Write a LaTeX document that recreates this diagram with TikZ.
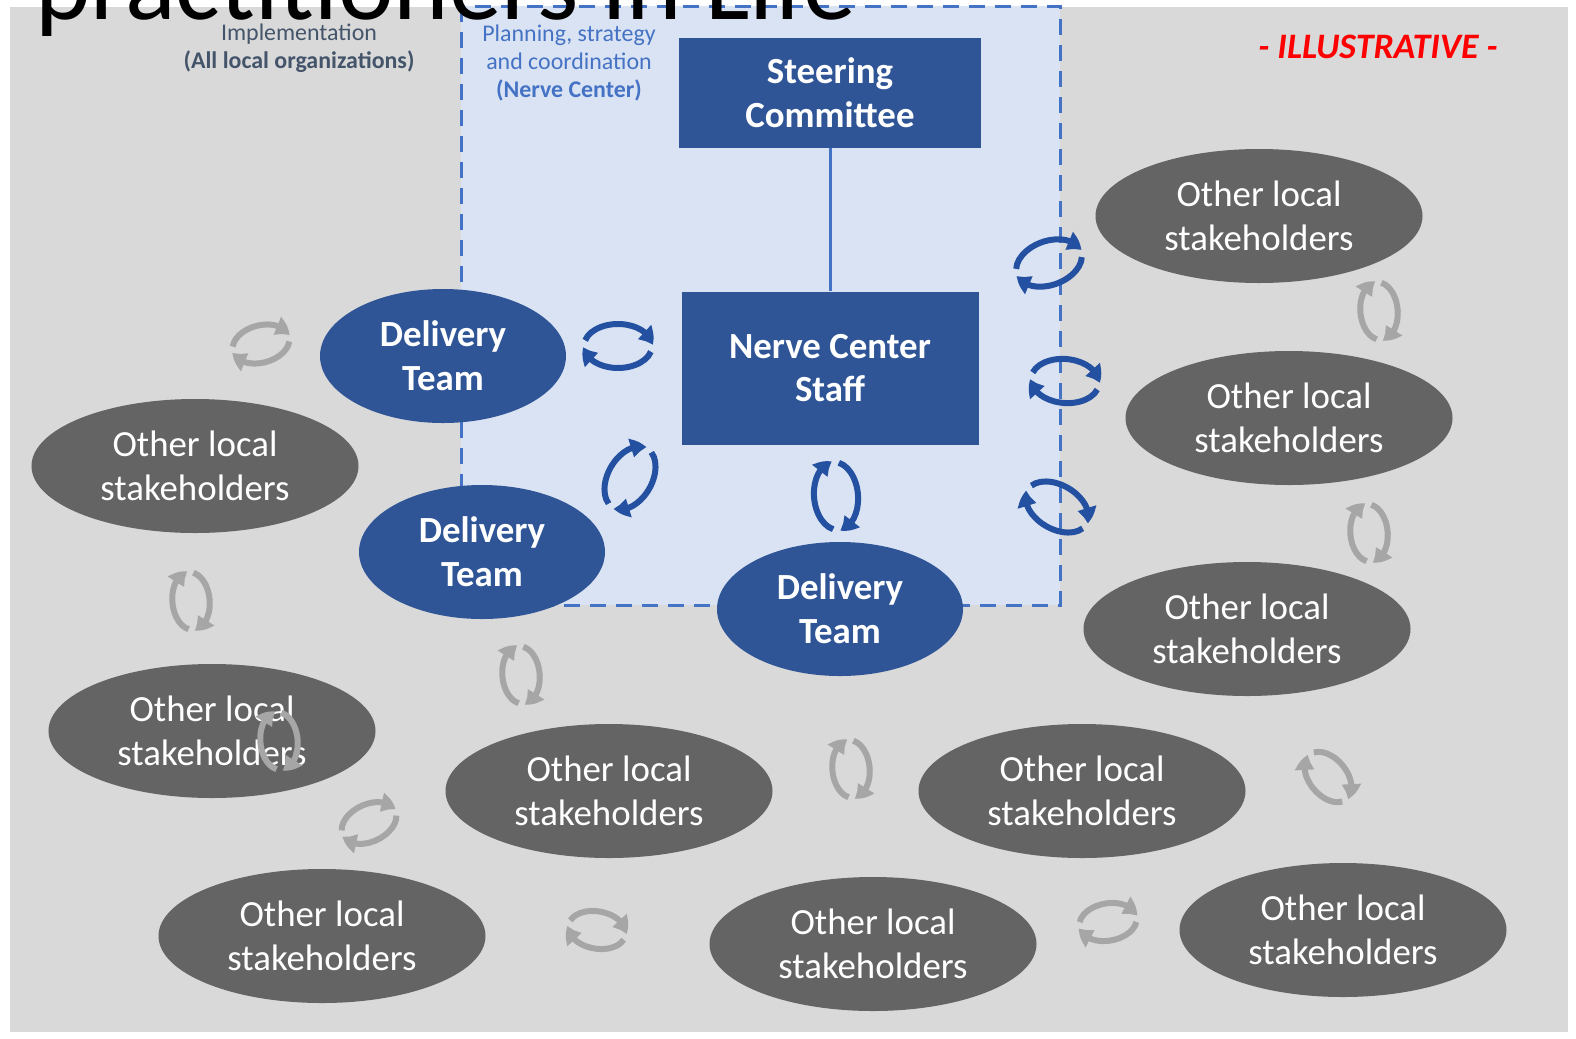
\documentclass[tikz,border=0pt]{standalone}
\usepackage{fontspec}
\setmainfont{Carlito}
\usetikzlibrary{shapes.geometric, arrows.meta, bending}
\definecolor{bggray}{HTML}{D9D9D9}
\definecolor{ncfill}{HTML}{DAE3F3}
\definecolor{ncline}{HTML}{4472C4}
\definecolor{navy}{HTML}{2F5597}
\definecolor{stake}{HTML}{646464}
\definecolor{swblue}{HTML}{2350A0}
\definecolor{swgray}{HTML}{A6A6A6}
\definecolor{slate}{HTML}{44546A}
\tikzstyle{box}=[rectangle, fill=navy, text=white, align=center, inner sep=0, font=\bfseries\fontsize{37}{44}\selectfont]
\tikzstyle{team}=[ellipse, fill=navy, inner sep=0, minimum width=246bp, minimum height=134bp]
\tikzstyle{other}=[ellipse, fill=stake, inner sep=0, minimum width=327bp, minimum height=134bp]
\tikzstyle{teamtext}=[text=white, align=center, inner sep=0, font=\bfseries\fontsize{37}{44}\selectfont]
\tikzstyle{othertext}=[text=white, align=center, inner sep=0, font=\fontsize{37}{44}\selectfont]
\tikzstyle{link}=[ncline, line width=3bp]
\tikzstyle{swarrow}=[line width=6bp, -{Triangle[length=15bp,width=19bp,bend]}]
% two curved arrows turning round each other
\newcommand{\swirl}[5]{%
\begin{scope}[shift={(#1,#2)}, x=1bp, y=1bp, rotate=#3, scale=#5]
\draw[#4, swarrow] (165:34 and 22) arc[start angle=165, end angle=2, x radius=34, y radius=22];
\draw[#4, swarrow] (-15:34 and 22) arc[start angle=-15, end angle=-178, x radius=34, y radius=22];
\end{scope}}

\begin{document}
\begin{tikzpicture}[x=1bp, y=-1bp]
\useasboundingbox (0,0) rectangle (1576,1038);
\clip (0,0) rectangle (1576,1038);
\fill[white] (0,0) rectangle (1576,1038);
\fill[bggray] (10,7) rectangle (1568,1032);
\fill[ncfill] (461,6) rectangle (1060,605);
\draw[link, dash pattern=on 16bp off 10bp] (461,6) rectangle (1060,605);

\node[anchor=base west, inner sep=0, font=\fontsize{106}{128}\selectfont] (title) at (35,19) {practitioners in Life};

\node[text=slate, align=center, inner sep=0, font=\fontsize{24}{28}\selectfont] (impl) at (299,48) {Implementation\\\textbf{(All local organizations)}};
\node[text=ncline, align=center, inner sep=0, font=\fontsize{24}{28}\selectfont] (plan) at (569,63) {Planning, strategy\\and coordination\\\textbf{(Nerve Center)}};
\node[text=red, inner sep=0, font=\bfseries\itshape\fontsize{36}{40}\selectfont] (illu) at (1378,47) {- ILLUSTRATIVE -};

\node[box, minimum width=302bp, minimum height=110bp] (steer) at (830,93) {Steering\\Committee};
\node[box, minimum width=297bp, minimum height=153bp] (staff) at (830,368) {Nerve Center\\Staff};
\draw[link] (steer) -- (staff);

\foreach \n/\x/\y in {1/443/356, 2/482/552, 3/840/609}{
	\node[team] (d\n) at (\x,\y) {};
	\node[teamtext] (dt\n) at (d\n) {Delivery\\Team};
}

\foreach \n/\x/\y in {1/1259/216, 2/1289/418, 3/1247/629, 4/195/466, 5/212/731, 6/609/791, 7/1082/791, 8/322/936, 9/873/944, 10/1343/930}{
	\node[other] (s\n) at (\x,\y) {};
	\node[othertext] (st\n) at (s\n) {Other local\\stakeholders};
}

\foreach \x/\y/\r in {618/346/0, 630/478/60, 836/496/95, 1049/263/20, 1065/381/-5, 1057/507/-30}{
	\swirl{\x}{\y}{\r}{swblue}{1}
}
\foreach \x/\y/\r in {261/344/15, 191/601/95, 279/741/95, 369/823/25, 521/675/95, 851/769/95, 1379/311/95, 1369/533/95, 1328/777/-50, 597/930/-10, 1108/922/10}{
	\swirl{\x}{\y}{\r}{swgray}{0.85}
}
\end{tikzpicture}
\end{document}
